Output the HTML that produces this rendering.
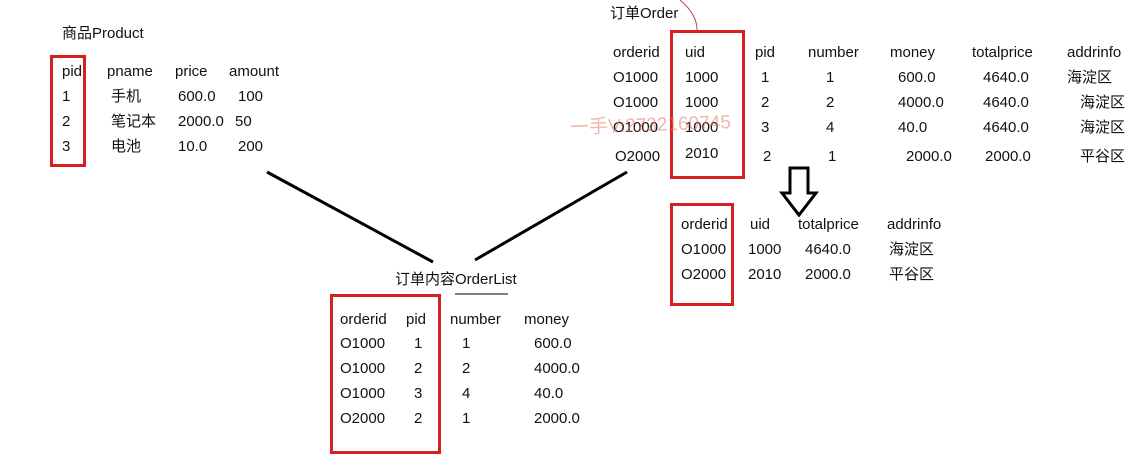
<!DOCTYPE html>
<html><head><meta charset="utf-8"><style>
body{margin:0;width:1133px;height:440px;background:#fff;overflow:hidden;position:relative;font-family:"Liberation Sans","Noto Sans CJK SC",sans-serif;font-size:15px;color:#111}
.t{position:absolute;line-height:16px;white-space:nowrap}
.box{position:absolute;border:3px solid #d42020;box-sizing:border-box}
</style></head><body>
<svg style="position:absolute;left:0;top:0" width="1133" height="440">
<line x1="267" y1="172" x2="433" y2="262" stroke="#000" stroke-width="3"/>
<line x1="475" y1="260" x2="627" y2="172" stroke="#000" stroke-width="3"/>
<path d="M680 0 Q698 15 697 32" fill="none" stroke="#c04040" stroke-width="1"/>
<path d="M790 168 h18 v25 h8 l-17 22 l-17 -22 h8 z" fill="none" stroke="#000" stroke-width="3"/>
<line x1="455" y1="294" x2="508" y2="294" stroke="#555" stroke-width="1.5"/>
</svg>
<div id="c"></div>
<div class="box" style="left:50px;top:55px;width:36px;height:112px"></div>
<div class="box" style="left:670px;top:30px;width:75px;height:149px"></div>
<div class="box" style="left:670px;top:203px;width:64px;height:103px"></div>
<div class="box" style="left:330px;top:294px;width:111px;height:160px"></div>
<div class="t" style="left:570px;top:118px;font-size:19px;color:rgba(230,120,100,0.55);transform:rotate(-2deg)">一手V:2732160745</div>
<script>
const items=[
["商品Product",62,34],
["pid",62,72],["pname",107,72],["price",175,72],["amount",229,72],
["1",62,97],["手机",111,97],["600.0",178,97],["100",238,97],
["2",62,122],["笔记本",111,122],["2000.0",178,122],["50",235,122],
["3",62,147],["电池",111,147],["10.0",178,147],["200",238,147],
["订单Order",610,14],
["orderid",613,53],["uid",685,53],["pid",755,53],["number",808,53],["money",890,53],["totalprice",972,53],["addrinfo",1067,53],
["O1000",613,78],["1000",685,78],["1",761,78],["1",826,78],["600.0",898,78],["4640.0",983,78],["海淀区",1067,78],
["O1000",613,103],["1000",685,103],["2",761,103],["2",826,103],["4000.0",898,103],["4640.0",983,103],["海淀区",1080,103],
["O1000",613,128],["1000",685,128],["3",761,128],["4",826,128],["40.0",898,128],["4640.0",983,128],["海淀区",1080,128],
["O2000",615,157],["2010",685,154],["2",763,157],["1",828,157],["2000.0",906,157],["2000.0",985,157],["平谷区",1080,157],
["orderid",681,225],["uid",750,225],["totalprice",798,225],["addrinfo",887,225],
["O1000",681,250],["1000",748,250],["4640.0",805,250],["海淀区",889,250],
["O2000",681,275],["2010",748,275],["2000.0",805,275],["平谷区",889,275],
["订单内容OrderList",395,280],
["orderid",340,320],["pid",406,320],["number",450,320],["money",524,320],
["O1000",340,344],["1",414,344],["1",462,344],["600.0",534,344],
["O1000",340,369],["2",414,369],["2",462,369],["4000.0",534,369],
["O1000",340,394],["3",414,394],["4",462,394],["40.0",534,394],
["O2000",340,419],["2",414,419],["1",462,419],["2000.0",534,419]
];
const c=document.getElementById('c');
for(const [s,x,y] of items){
 const d=document.createElement('div');
 d.className='t';
 d.style.left=x+'px';d.style.top=(y-8)+'px';
 d.textContent=s;
 
 
 c.appendChild(d);
}
</script>
</body></html>
